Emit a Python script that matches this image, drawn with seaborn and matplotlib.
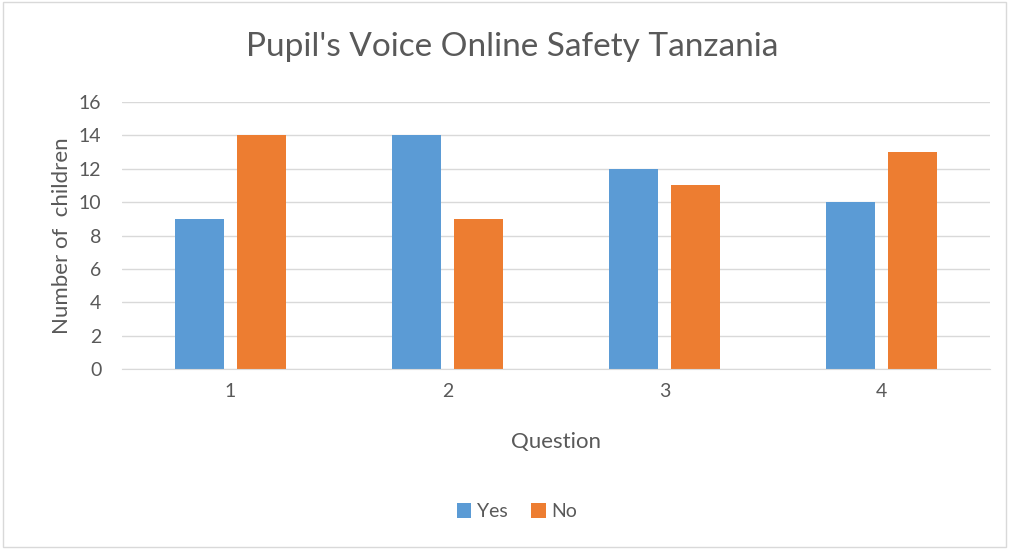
import pandas as pd
import matplotlib.pyplot as plt
import seaborn as sns

# --- DATOS ---
preguntas = ['1', '2', '3', '4']
si = [9, 14, 12, 10]
no = [14, 9, 11, 13]
series = ['Yes', 'No']
colores = ['#5B9BD5', '#ED7D31']

df = pd.DataFrame({
    'Question': preguntas * 2,
    'Respuesta': ['Yes'] * len(si) + ['No'] * len(no),
    'Valor': si + no,
})

# --- CONFIGURACIÓN ---
sns.set_style("white")
plt.rcParams['font.family'] = ['Lato', 'DejaVu Sans']
texto = '#595959'

fig = plt.figure(figsize=(10.09, 5.49), dpi=100)
ax = fig.add_axes([0.121, 0.328, 0.860, 0.486])

sns.barplot(data=df, x='Question', y='Valor', hue='Respuesta', hue_order=series,
            palette=colores, width=0.571, gap=0.21, saturation=1, ax=ax,
            edgecolor='none', linewidth=0)

ax.set_ylim(0, 16)
ax.set_yticks(range(0, 17, 2))
ax.yaxis.grid(True, color='#D9D9D9', linewidth=1)
ax.set_axisbelow(True)
for lado in ['top', 'right', 'left']:
    ax.spines[lado].set_visible(False)
ax.spines['bottom'].set_color('#D9D9D9')
ax.tick_params(axis='both', length=0, labelsize=14, colors=texto, pad=10)
ax.tick_params(axis='y', pad=15)

ax.set_xlabel('Question', fontsize=16, color=texto, labelpad=23)
ax.set_ylabel('Number of  children', fontsize=16, color=texto, labelpad=5)
fig.text(0.508, 0.915, "Pupil's Voice Online Safety Tanzania", ha='center', va='center',
         fontsize=24, color=texto)

ax.legend(loc='center', bbox_to_anchor=(0.455, -0.535), ncol=2, frameon=False,
          fontsize=14, labelcolor=texto, handlelength=0.75, handleheight=0.75,
          handletextpad=0.3, columnspacing=1.2)

# borde del gráfico
fig.patches.append(plt.Rectangle((0.003, 0.004), 0.994, 0.992, transform=fig.transFigure,
                                 fill=False, edgecolor='#D9D9D9', linewidth=1))

plt.savefig('out.png', dpi=100)
plt.close()
